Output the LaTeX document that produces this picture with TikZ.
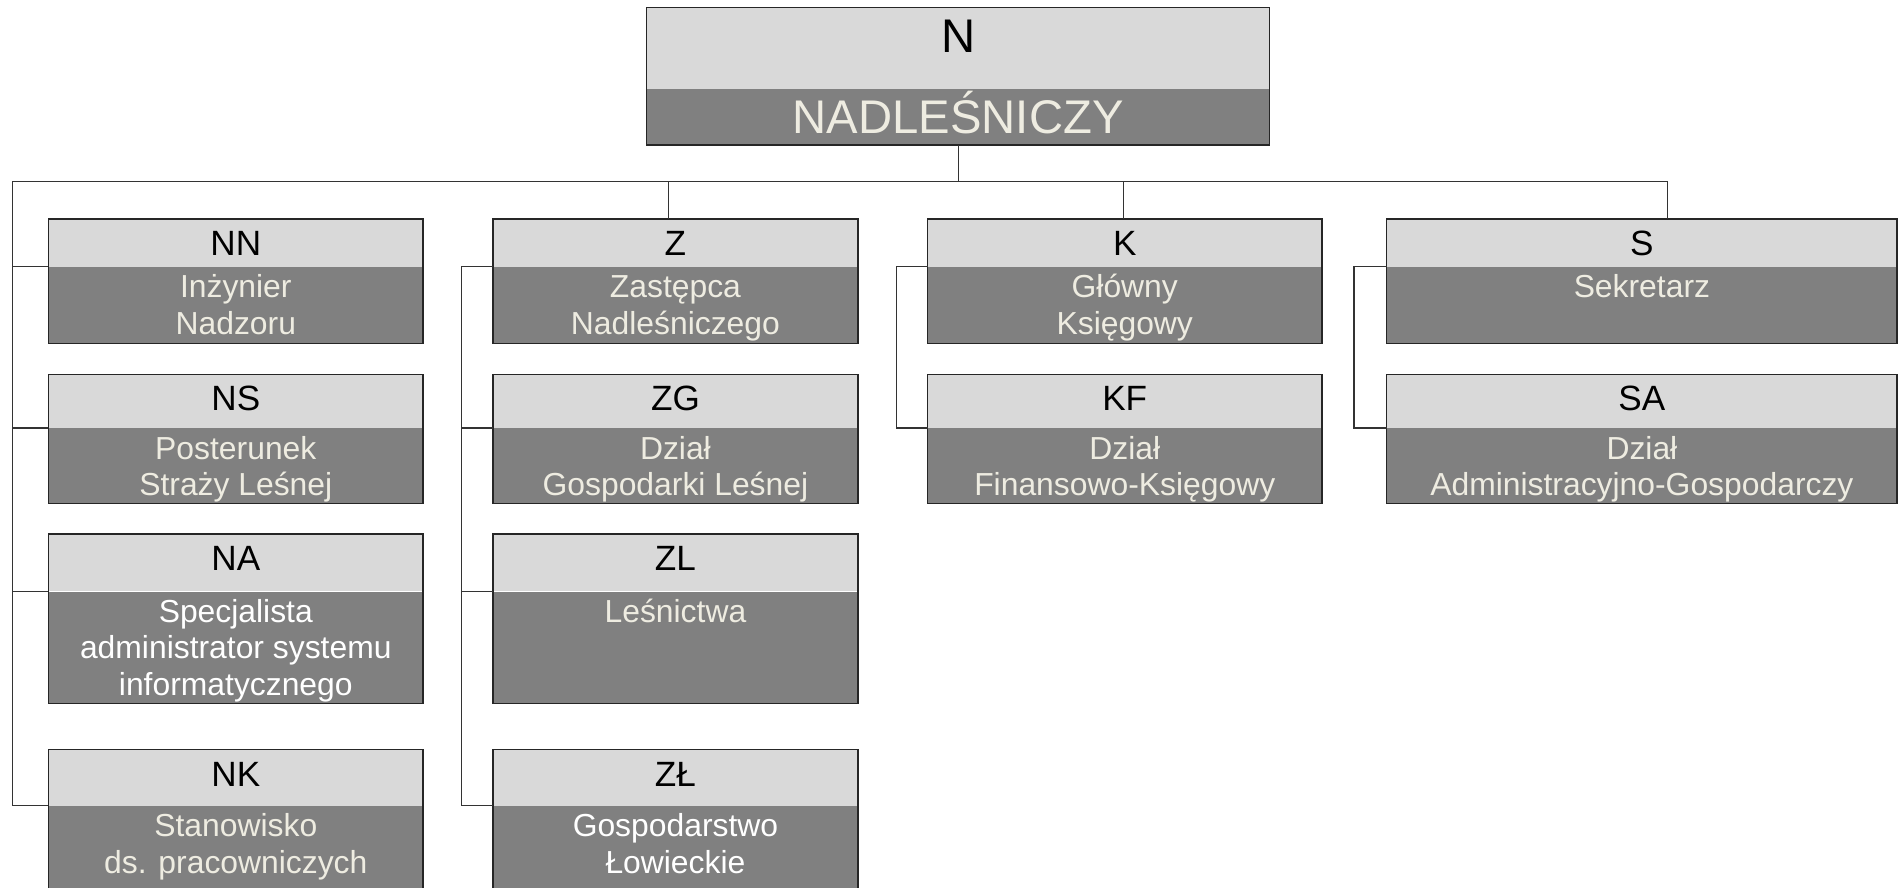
\documentclass[tikz,border=0pt]{standalone}
\usepackage{fontspec}
\setmainfont{Liberation Sans}
\usetikzlibrary{positioning}

\definecolor{hdrgray}{HTML}{D9D9D9}
\definecolor{bodygray}{HTML}{808080}
\definecolor{cream}{HTML}{EEECE1}

\tikzset{
  hdr/.style={rectangle,fill=hdrgray,inner sep=0pt,anchor=north west},
  bdy/.style={rectangle,fill=bodygray,inner sep=0pt},
  frame/.style={draw=black!85,line width=1.2pt},
  link/.style={draw=black!80,line width=0.9pt},
  code/.style={anchor=base,inner sep=0pt,font=\fontsize{29}{34}\selectfont},
  role/.style={anchor=north,inner sep=0pt,align=center,font=\fontsize{26.3}{30}\selectfont}
}

\begin{document}
\begin{tikzpicture}[x=1pt,y=-1pt]
  \useasboundingbox (0,0) rectangle (1568,733);
  \clip (0,0) rectangle (1568,733);

  % top box
  \node[hdr,minimum width=514pt,minimum height=67pt] (N-h) at (534,6) {};
  \node[bdy,minimum width=514pt,minimum height=46pt,below right=0pt and 0pt of N-h.south west] (N-b) {};
  \draw[frame] (N-h.north west) rectangle (N-b.south east);
  \node[code,font=\fontsize{39}{45}\selectfont,yshift=-37.3pt] (N-c) at (N-h.north) {N};
  \node[code,text=cream,font=\fontsize{39}{45}\selectfont,yshift=-37pt] (N-t) at (N-b.north) {NADLEŚNICZY};

  % units
  \foreach \n/\x/\y/\w/\hh/\bh/\col/\lbl/\role in {
    NN/40/181/309/39/63/cream/NN/{Inżynier\\Nadzoru},
    NS/40/309/309/44/62/cream/NS/{Posterunek\\Straży Leśnej},
    NA/40/441/309/47/92/white/NA/{Specjalista\\administrator systemu\\informatycznego},
    NK/40/619/309/46/110/cream/NK/{Stanowisko\\ds. pracowniczych},
    Z/407/181/301/39/63/cream/Z/{Zastępca\\Nadleśniczego},
    ZG/407/309/301/44/62/cream/ZG/{Dział\\Gospodarki Leśnej},
    ZL/407/441/301/47/92/cream/ZL/{Leśnictwa},
    ZLow/407/619/301/46/110/white/ZŁ/{Gospodarstwo\\Łowieckie},
    K/766/181/325/39/63/cream/K/{Główny\\Księgowy},
    KF/766/309/325/44/62/cream/KF/{Dział\\Finansowo-Księgowy},
    S/1145/181/421/39/63/cream/S/{Sekretarz},
    SA/1145/309/421/44/62/cream/SA/{Dział\\Administracyjno-Gospodarczy}}
  {
    \node[hdr,minimum width=\w pt,minimum height=\hh pt] (\n-h) at (\x,\y) {};
    \node[bdy,minimum width=\w pt,minimum height=\bh pt,below right=0pt and 0pt of \n-h.south west] (\n-b) {};
    \draw[frame] (\n-h.north west) rectangle (\n-b.south east);
    \node[code,yshift=-30pt] (\n-c) at (\n-h.north) {\lbl};
    \node[role,text=\col,yshift=-5.4pt] (\n-t) at (\n-b.north) {\rule{0pt}{20pt}\role};
  }

  % bus and drops
  \coordinate (bus) at (10,150);
  \coordinate (zdrop) at (552,150);
  \coordinate (kdrop) at (928,150);
  \coordinate (sdrop) at (1377,150);
  \draw[link] (N-b.south) |- (bus) |- (NK-h.south west);
  \draw[link] (bus) -- (sdrop) -- (sdrop |- S-h.north);
  \draw[link] (zdrop) -- (zdrop |- Z-h.north);
  \draw[link] (kdrop) -- (kdrop |- K-h.north);
  \foreach \n in {NN,NS,NA}
    \draw[link] (bus |- \n-h.south west) -- (\n-h.south west);

  % Z branch
  \draw[link] (Z-h.south west) -- ++(-26,0) coordinate (zrail) |- (ZLow-h.south west);
  \foreach \n in {ZG,ZL}
    \draw[link] (zrail |- \n-h.south west) -- (\n-h.south west);

  % K and S branches
  \draw[link] (K-h.south west) -- ++(-26,0) |- (KF-h.south west);
  \draw[link] (S-h.south west) -- ++(-27,0) |- (SA-h.south west);
\end{tikzpicture}
\end{document}
